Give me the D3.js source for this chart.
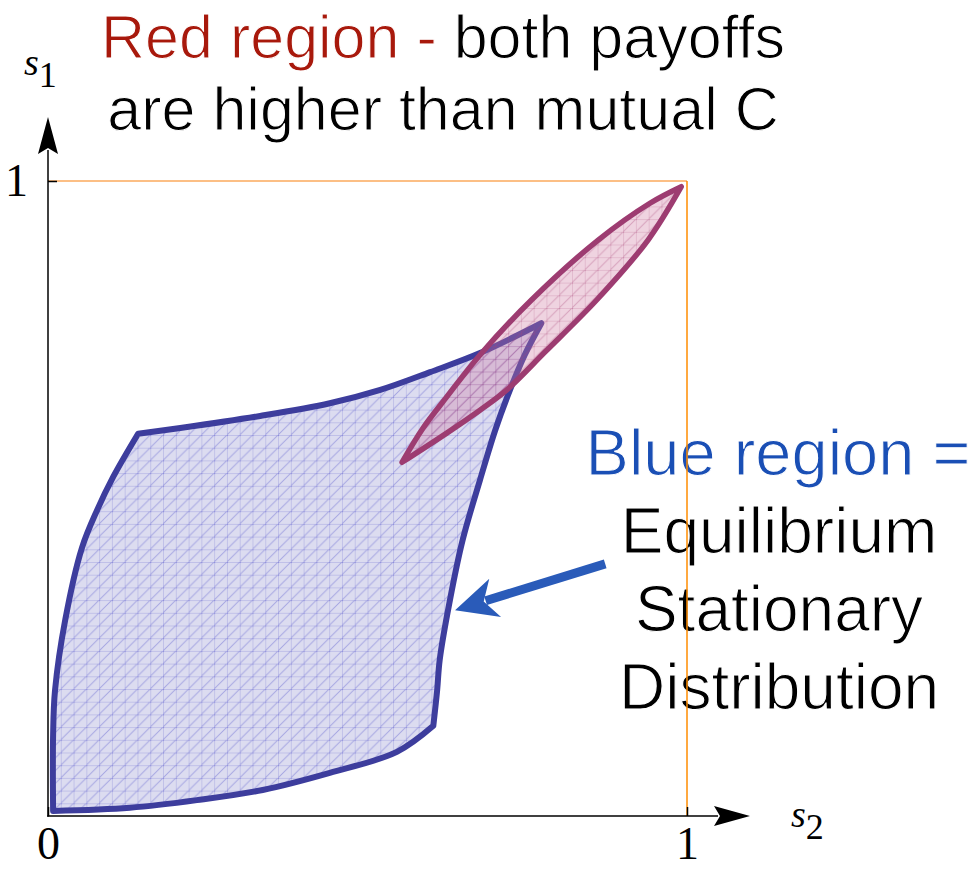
<!DOCTYPE html>
<html>
<head>
<meta charset="utf-8">
<script src="https://cdn.jsdelivr.net/npm/d3@7"></script>
<style>
  body { margin: 0; background: #fff; }
</style>
</head>
<body>
<div id="chart"></div>
<script>
// boundary of the blue region (s2, s1), edge by edge
var blueBottom = [[0.603, 0.142], [0.546, 0.101], [0.441, 0.068], [0.336, 0.041], [0.233, 0.025], [0.128, 0.013], [0.008, 0.008]];
var blueLeft = [[0.008, 0.008], [0.008, 0.128], [0.011, 0.198], [0.027, 0.309], [0.053, 0.422], [0.077, 0.482], [0.102, 0.534], [0.141, 0.602]];
var blueTop = [[0.141, 0.602], [0.207, 0.611], [0.332, 0.630], [0.441, 0.650], [0.520, 0.671], [0.598, 0.699], [0.676, 0.729], [0.772, 0.776]];
var blueRight = [[0.772, 0.776], [0.746, 0.726], [0.723, 0.671], [0.700, 0.608], [0.676, 0.529], [0.649, 0.435], [0.629, 0.340], [0.613, 0.246], [0.609, 0.198], [0.603, 0.142]];

// boundary of the red lens
var redUpper = [[0.554, 0.557], [0.587, 0.611], [0.624, 0.660], [0.676, 0.726], [0.757, 0.813], [0.861, 0.907], [0.942, 0.965], [0.991, 0.991]];
var redLower = [[0.991, 0.991], [0.939, 0.907], [0.859, 0.813], [0.778, 0.731], [0.718, 0.671], [0.676, 0.639], [0.624, 0.603], [0.554, 0.557]];

// annotation arrow (tail, tip)
var arrowPts = [[0.872, 0.397], [0.637, 0.324]];

var xTicks = [0, 1];
var yTicks = [1];
var titleLines = ["are higher than mutual C"];
var noteLines = ["Equilibrium", "Stationary", "Distribution"];

var width = 976, height = 869;

var svg = d3.select("#chart").append("svg")
    .attr("width", width)
    .attr("height", height);

var x = d3.scaleLinear().domain([0, 1]).range([48, 687]);
var y = d3.scaleLinear().domain([0, 1]).range([816, 181]);

// mesh patterns
var cellW = x(0.02) - x(0);
var cellH = y(0) - y(0.02);
var defs = svg.append("defs");

function meshPattern(id, bg, lineColor) {
  var p = defs.append("pattern")
      .attr("id", id)
      .attr("patternUnits", "userSpaceOnUse")
      .attr("x", x(0)).attr("y", y(1))
      .attr("width", cellW).attr("height", cellH);
  if (bg) p.append("rect").attr("width", cellW).attr("height", cellH).attr("fill", bg);
  p.append("path")
      .attr("d", "M0,0V" + cellH + "M0,0H" + cellW + "M0," + cellH + "L" + cellW + ",0")
      .attr("stroke", lineColor)
      .attr("stroke-width", 1)
      .attr("fill", "none");
  p.append("circle").attr("r", 1.2).attr("fill", lineColor);
}
meshPattern("blueMesh", "#dcdcf0", "rgba(90,90,205,0.42)");
meshPattern("redMesh", null, "rgba(170,70,120,0.35)");

var edge = d3.line()
    .x(function(d) { return x(d[0]); })
    .y(function(d) { return y(d[1]); })
    .curve(d3.curveCatmullRom.alpha(0.5));

function closedPath(edges) {
  var d = "";
  edges.forEach(function(e, i) {
    var s = edge(e);
    d += (i === 0) ? s : "L" + s.slice(1);
  });
  return d + "Z";
}

var blueD = closedPath([blueBottom, blueLeft, blueTop, blueRight]);
var redD = closedPath([redUpper, redLower]);

svg.append("path")
    .attr("d", blueD)
    .attr("fill", "url(#blueMesh)")
    .attr("stroke", "#3d3d9d")
    .attr("stroke-width", 6)
    .attr("stroke-linejoin", "round");

svg.append("path")
    .attr("d", redD)
    .attr("fill", "rgba(205,120,160,0.33)");
svg.append("path")
    .attr("d", redD)
    .attr("fill", "url(#redMesh)")
    .attr("stroke", "#9d3c71")
    .attr("stroke-width", 5.5)
    .attr("stroke-linejoin", "round");

// annotation arrow
var ax0 = x(arrowPts[0][0]), ay0 = y(arrowPts[0][1]);
var ax1 = x(arrowPts[1][0]), ay1 = y(arrowPts[1][1]);
var ang = Math.atan2(ay1 - ay0, ax1 - ax0);
var headLen = 38, headW = 20;
var bx = ax1 - headLen * Math.cos(ang), by = ay1 - headLen * Math.sin(ang);
svg.append("line")
    .attr("x1", ax0).attr("y1", ay0)
    .attr("x2", bx + 6 * Math.cos(ang)).attr("y2", by + 6 * Math.sin(ang))
    .attr("stroke", "#2a5bb9")
    .attr("stroke-width", 9);
svg.append("path")
    .attr("d", "M" + ax1 + "," + ay1 +
      "L" + (bx - headW * Math.sin(ang) - 4 * Math.cos(ang)) + "," + (by + headW * Math.cos(ang) - 4 * Math.sin(ang)) +
      "L" + (bx + 8 * Math.cos(ang)) + "," + (by + 8 * Math.sin(ang)) +
      "L" + (bx + headW * Math.sin(ang) - 4 * Math.cos(ang)) + "," + (by - headW * Math.cos(ang) - 4 * Math.sin(ang)) + "Z")
    .attr("fill", "#2a5bb9");

// texts (thin white outline to get closer to the light face of the original)
var sans = "'Liberation Sans', Arial, sans-serif";
function lightText(sel) {
  return sel.attr("font-family", sans)
      .attr("stroke", "#fff")
      .attr("stroke-width", 1.1);
}
var title = svg.append("text")
    .attr("x", 443).attr("y", 58)
    .attr("text-anchor", "middle")
    .attr("font-size", 61)
    .call(lightText);
title.append("tspan").attr("fill", "#a8190c").text("Red region - ");
title.append("tspan").attr("fill", "#000").text("both payoffs");
svg.append("text")
    .attr("x", 443).attr("y", 130)
    .attr("text-anchor", "middle")
    .attr("font-size", 61)
    .attr("fill", "#000")
    .call(lightText)
    .text(titleLines[0]);

svg.append("text")
    .attr("x", 778).attr("y", 475)
    .attr("text-anchor", "middle")
    .attr("font-size", 65)
    .attr("fill", "#1a4fb5")
    .call(lightText)
    .text("Blue region =");
svg.selectAll(".note")
    .data(noteLines)
    .enter().append("text")
    .attr("class", "note")
    .attr("x", 779)
    .attr("y", function(d, i) { return 553 + i * 78; })
    .attr("text-anchor", "middle")
    .attr("font-size", 64)
    .attr("fill", "#000")
    .call(lightText)
    .text(function(d) { return d; });

// orange frame at s1 = 1 and s2 = 1
svg.append("line")
    .attr("x1", x(0)).attr("x2", x(1))
    .attr("y1", y(1)).attr("y2", y(1))
    .attr("stroke", "#fbaa5c").attr("stroke-width", 1.5);
svg.append("line")
    .attr("x1", x(1)).attr("x2", x(1))
    .attr("y1", y(1)).attr("y2", y(0))
    .attr("stroke", "#ff8c00").attr("stroke-width", 1.5);

// axes
var serif = "'Liberation Serif', 'Times New Roman', serif";
var xAxis = svg.append("g")
    .attr("transform", "translate(0," + y(0) + ")")
    .call(d3.axisBottom(x).tickValues(xTicks).tickFormat(d3.format("d")).tickSizeInner(-9).tickSizeOuter(0).tickPadding(10));
var yAxis = svg.append("g")
    .attr("transform", "translate(" + x(0) + ",0)")
    .call(d3.axisLeft(y).tickValues(yTicks).tickFormat(d3.format("d")).tickSizeInner(-9).tickSizeOuter(0).tickPadding(20));
[xAxis, yAxis].forEach(function(g) {
  g.select(".domain").remove();
  g.selectAll(".tick line").attr("stroke", "#000").attr("stroke-width", 1.5);
  g.selectAll(".tick text").attr("font-family", serif).attr("font-size", 46).attr("fill", "#000");
});

svg.append("line")
    .attr("x1", x(0) - 0.75).attr("x2", 718)
    .attr("y1", y(0)).attr("y2", y(0))
    .attr("stroke", "#000").attr("stroke-width", 1.5);
svg.append("path")
    .attr("d", "M750," + y(0) + "L714," + (y(0) - 10) + "L720," + y(0) + "L714," + (y(0) + 10) + "Z")
    .attr("fill", "#000");
svg.append("line")
    .attr("x1", x(0)).attr("x2", x(0))
    .attr("y1", y(0) + 0.75).attr("y2", 150)
    .attr("stroke", "#000").attr("stroke-width", 1.5);
svg.append("path")
    .attr("d", "M" + x(0) + ",117L" + (x(0) - 10) + ",154L" + x(0) + ",148L" + (x(0) + 10) + ",154Z")
    .attr("fill", "#000");

// axis names
var s1 = svg.append("text")
    .attr("x", 24).attr("y", 75)
    .attr("font-family", serif)
    .attr("font-size", 38);
s1.append("tspan").attr("font-style", "italic").text("s");
s1.append("tspan").attr("font-size", 36).attr("dy", 12).text("1");
var s2 = svg.append("text")
    .attr("x", 791).attr("y", 827)
    .attr("font-family", serif)
    .attr("font-size", 38);
s2.append("tspan").attr("font-style", "italic").text("s");
s2.append("tspan").attr("font-size", 36).attr("dy", 12).text("2");
</script>
</body>
</html>
